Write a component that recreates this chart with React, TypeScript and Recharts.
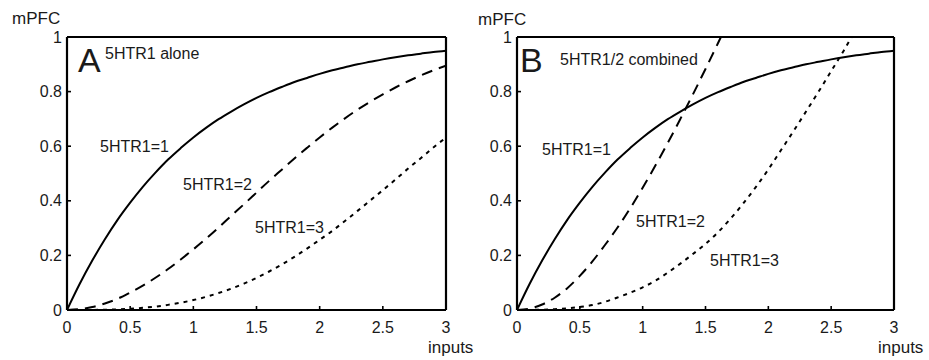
import React from "react";
import { LineChart, Line, XAxis, YAxis } from "recharts";

const inputs = [0, 0.1, 0.2, 0.3, 0.4, 0.5, 0.6, 0.7, 0.8, 0.9, 1.0, 1.1, 1.2, 1.3, 1.4, 1.5, 1.6, 1.7, 1.8, 1.9, 2.0, 2.1, 2.2, 2.3, 2.4, 2.5, 2.6, 2.7, 2.8, 2.9, 3.0];

// Panel A: 5HTR1 alone
const aloneR1 = [0, 0.095, 0.181, 0.259, 0.33, 0.393, 0.451, 0.503, 0.551, 0.593, 0.632, 0.667, 0.699, 0.727, 0.753, 0.777, 0.798, 0.817, 0.835, 0.85, 0.865, 0.878, 0.889, 0.9, 0.909, 0.918, 0.926, 0.933, 0.939, 0.945, 0.95];
const aloneR2 = [0, 0.003, 0.011, 0.024, 0.041, 0.064, 0.089, 0.118, 0.15, 0.185, 0.222, 0.261, 0.302, 0.345, 0.387, 0.43, 0.473, 0.514, 0.555, 0.594, 0.632, 0.668, 0.702, 0.734, 0.763, 0.79, 0.815, 0.838, 0.859, 0.878, 0.895];
const aloneR3 = [0, 0, 0.0003, 0.001, 0.0024, 0.0046, 0.008, 0.0126, 0.0188, 0.0267, 0.0364, 0.0481, 0.062, 0.0781, 0.0965, 0.1175, 0.141, 0.1666, 0.1947, 0.2251, 0.2573, 0.29, 0.326, 0.363, 0.401, 0.439, 0.478, 0.518, 0.556, 0.595, 0.632];

// Panel B: 5HTR1/2 combined
const combR1 = [0, 0.095, 0.181, 0.259, 0.33, 0.393, 0.451, 0.503, 0.551, 0.593, 0.632, 0.667, 0.699, 0.727, 0.753, 0.777, 0.798, 0.817, 0.835, 0.85, 0.865, 0.878, 0.889, 0.9, 0.909, 0.918, 0.926, 0.933, 0.939, 0.945, 0.95];
const combR2: (number | null)[] = [0, 0.005, 0.02, 0.045, 0.08, 0.125, 0.178, 0.238, 0.302, 0.372, 0.448, 0.528, 0.612, 0.7, 0.79, 0.883, 0.978, 1.075, null, null, null, null, null, null, null, null, null, null, null, null, null];
const combR3: (number | null)[] = [0, 0.0003, 0.001, 0.003, 0.006, 0.011, 0.018, 0.03, 0.046, 0.063, 0.083, 0.107, 0.137, 0.17, 0.205, 0.242, 0.285, 0.335, 0.39, 0.45, 0.515, 0.585, 0.655, 0.727, 0.8, 0.875, 0.95, 1.03, null, null, null];

const xTicks = [0, 0.5, 1, 1.5, 2, 2.5, 3];
const yTicks = [0, 0.2, 0.4, 0.6, 0.8, 1];

const dataA = inputs.map((x, i) => ({ x, r1: aloneR1[i], r2: aloneR2[i], r3: aloneR3[i] }));
const dataB = inputs.map((x, i) => ({ x, r1: combR1[i], r2: combR2[i], r3: combR3[i] }));

const FONT = "'Liberation Sans', Arial, sans-serif";
const TXT = "#1a1a1a";
const tickStyle = { fontSize: 16, fill: TXT, fontFamily: FONT };
const fmt = (v: number) => String(v);

function Panel({ data, margin }: { data: any[]; margin: any }) {
  const axisLine = { stroke: "#000", strokeWidth: 2.2 };
  const tickLine = { stroke: "#000", strokeWidth: 1.6 };
  return (
    <LineChart width={margin.w} height={360} data={data} margin={{ top: margin.top - 1, left: margin.left - 1, right: margin.right - 1, bottom: margin.bottom - 1 }}>
      <XAxis
        dataKey="x"
        type="number"
        domain={[0, 3]}
        ticks={xTicks}
        tickFormatter={fmt}
        allowDataOverflow
        height={1}
        tickSize={-4}
        tickMargin={16}
        axisLine={axisLine}
        tickLine={tickLine}
        tick={tickStyle}
      />
      <XAxis
        xAxisId="top"
        orientation="top"
        dataKey="x"
        type="number"
        domain={[0, 3]}
        ticks={xTicks}
        allowDataOverflow
        height={1}
        tickSize={-4}
        axisLine={axisLine}
        tickLine={tickLine}
        tick={false}
      />
      <YAxis
        type="number"
        domain={[0, 1]}
        ticks={yTicks}
        tickFormatter={fmt}
        allowDataOverflow
        width={1}
        tickSize={-4}
        tickMargin={9}
        axisLine={axisLine}
        tickLine={tickLine}
        tick={tickStyle}
      />
      <YAxis
        yAxisId="right"
        orientation="right"
        type="number"
        domain={[0, 1]}
        ticks={yTicks}
        allowDataOverflow
        width={1}
        tickSize={-4}
        axisLine={axisLine}
        tickLine={tickLine}
        tick={false}
      />
      <Line xAxisId="top" yAxisId="right" dataKey="r1" stroke="none" dot={false} activeDot={false} isAnimationActive={false} />
      <Line dataKey="r1" type="monotone" stroke="#000" strokeWidth={2} dot={false} activeDot={false} isAnimationActive={false} />
      <Line dataKey="r2" type="monotone" stroke="#000" strokeWidth={2} strokeDasharray="11 7" dot={false} activeDot={false} isAnimationActive={false} />
      <Line dataKey="r3" type="monotone" stroke="#000" strokeWidth={2} strokeDasharray="4 5" dot={false} activeDot={false} isAnimationActive={false} />
    </LineChart>
  );
}

const labels = [
  { t: "mPFC", x: 12, y: 24, s: 17 },
  { t: "mPFC", x: 478, y: 25, s: 17 },
  { t: "inputs", x: 428, y: 353, s: 17 },
  { t: "inputs", x: 878, y: 353, s: 17 },
  { t: "A", x: 78, y: 72, s: 34 },
  { t: "B", x: 520, y: 72, s: 34 },
  { t: "5HTR1 alone", x: 105, y: 59, s: 16 },
  { t: "5HTR1/2 combined", x: 560, y: 65, s: 16 },
  { t: "5HTR1=1", x: 100, y: 152, s: 16 },
  { t: "5HTR1=2", x: 183, y: 190, s: 16 },
  { t: "5HTR1=3", x: 255, y: 233, s: 16 },
  { t: "5HTR1=1", x: 542, y: 155, s: 16 },
  { t: "5HTR1=2", x: 636, y: 227, s: 16 },
  { t: "5HTR1=3", x: 710, y: 266, s: 16 },
];

export default function App() {
  return (
    <div style={{ position: "absolute", left: 0, top: 0, width: 929, height: 360, background: "#fff", overflow: "hidden" }}>
      <div style={{ position: "absolute", left: 0, top: 0 }}>
        <Panel data={dataA} margin={{ w: 460, top: 37, left: 67, right: 14, bottom: 50 }} />
      </div>
      <div style={{ position: "absolute", left: 460, top: 0 }}>
        <Panel data={dataB} margin={{ w: 469, top: 37, left: 57, right: 35, bottom: 50 }} />
      </div>
      <svg width={929} height={360} style={{ position: "absolute", left: 0, top: 0, pointerEvents: "none" }}>
        {labels.map((l, i) => (
          <text key={i} x={l.x} y={l.y} fontSize={l.s} fill={TXT} fontFamily={FONT}>
            {l.t}
          </text>
        ))}
      </svg>
    </div>
  );
}
